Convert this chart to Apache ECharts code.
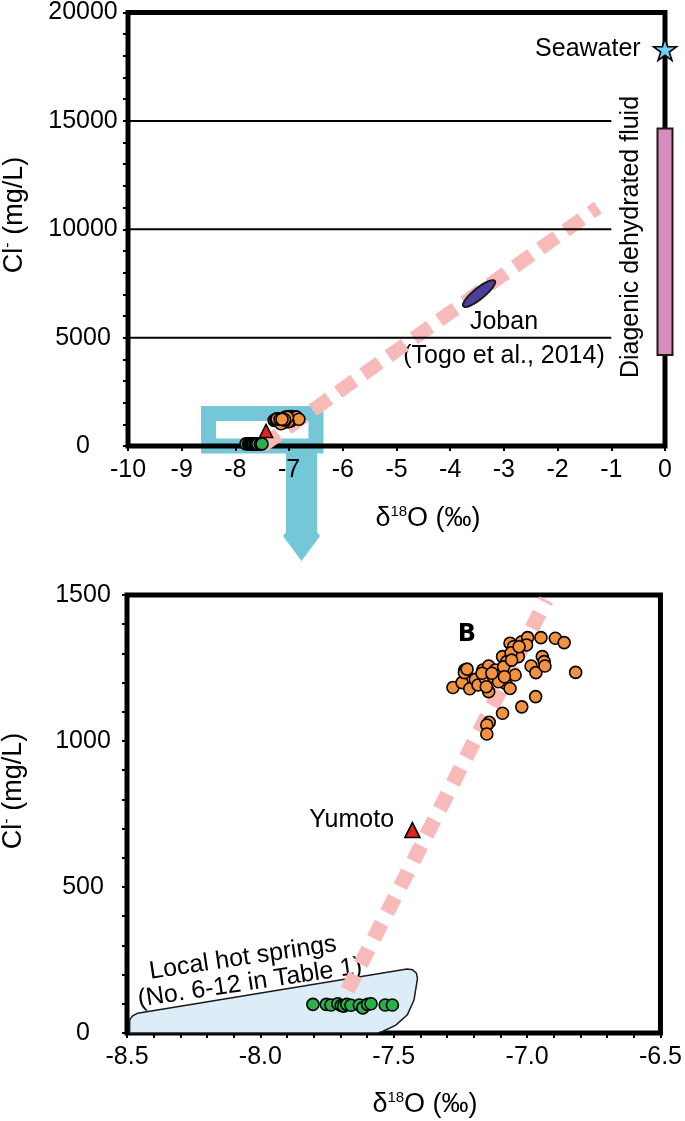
<!DOCTYPE html>
<html><head><meta charset="utf-8">
<script src="https://cdn.jsdelivr.net/npm/echarts@6/dist/echarts.min.js"></script>
<style>html,body{margin:0;padding:0;background:#fff}#c{width:685px;height:1121px}</style>
</head><body><div id="c"></div>
<script>
// ---------------- data ----------------
// Group B (orange) : [δ18O (‰), Cl- (mg/L)]
const groupB = [
 [-7.278,1183],[-7.244,1200],[-7.234,1243],[-7.235,1234],[-7.215,1179],[-7.194,1211],[-7.184,1192],
 [-7.157,1215],[-7.166,1243],[-7.144,1257],[-7.144,1169],[-7.153,1186],[-7.119,1243],[-7.126,1220],
 [-7.092,1289],[-7.082,1198],[-7.064,1180],[-7.076,1272],[-7.064,1335],[-7.051,1323],[-7.045,1226],
 [-7.033,1289],[-7.020,1340],[-6.998,1354],[-7.002,1329],[-7.060,1302],[-7.101,1226],[-7.088,1254],
 [-6.985,1257],[-6.967,1234],[-6.968,1152],[-6.948,1354],[-6.943,1289],[-6.936,1272],[-6.933,1257],
 [-6.894,1352],[-6.861,1337],[-6.818,1235],[-7.020,1117],[-7.092,1095],[-7.142,1064],[-7.151,1055],
 [-7.151,1024],[-7.225,1246],[-7.169,1232],[-7.107,1203],[-7.058,1277],[-7.030,1323],[-7.085,1220],
 [-7.132,1232]
];
// Group A (green, local hot springs)
const groupA = [
 [-7.803,98],[-7.753,98],[-7.735,96],[-7.710,100],[-7.697,94],[-7.688,92],[-7.676,98],
 [-7.660,95],[-7.629,96],[-7.616,86],[-7.598,98],[-7.585,100],[-7.532,96],[-7.505,96]
];
const yumoto = [[-7.43, 695]];
const seawater = [[0, 18300]];
const diageneticRange = [[0, 4200, 14650]];          // x, Cl min, Cl max
const jobanEllipse = [[-3.77, 6420, -3.155, 7650]];   // end points of the Joban field
const mixingLineTop = [[-7.5, 0], [-1.25, 11000]];
const mixingLineBottom = [[-7.673, 147], [-6.928, 1483]];
const topRefLines = [5000, 10000, 15000];
const topRefLineX = [-10, -1];
const zoomBox = [[-8.5, -6.5, 0, 1500]];             // x0, x1, y0, y1
const springsRegion = [
 [-8.49,0],[-8.49,45],[-8.48,58],[-8.46,68],[-7.45,219],[-7.43,217],[-7.415,205],[-7.411,187],
 [-7.424,113],[-7.449,62],[-7.492,27],[-7.542,5],[-7.56,0]
];
const topXRange = [-10, 0], topYRange = [0, 20000];
const botXRange = [-8.5, -6.5], botYRange = [0, 1500];

// ---------------- chart ----------------
const FONT = 'Liberation Sans';
const chart = echarts.init(document.getElementById('c'));

function axisCommon(extra) {
  return Object.assign({
    type: 'value',
    axisLine: { show: false, onZero: false },
    splitLine: { show: false },
    axisTick: { show: true, inside: false, length: 5, lineStyle: { color: '#000', width: 2 } },
    minorTick: { show: false },
    axisLabel: { color: '#000', fontSize: 25, fontFamily: FONT }
  }, extra);
}

const markerStyle = (c) => ({ color: c, borderColor: '#000', borderWidth: 1.6, opacity: 1 });

function scatterSet(gi) {
  const ax = gi ? 1 : 0;
  return [
    { type: 'scatter', xAxisIndex: ax, yAxisIndex: ax, data: groupA, symbolSize: 12,
      itemStyle: markerStyle('#2ab04b'), z: 5 },
    { type: 'scatter', xAxisIndex: ax, yAxisIndex: ax, data: groupB, symbolSize: 12,
      itemStyle: markerStyle('#f2923f'), z: 5 },
    { type: 'scatter', xAxisIndex: ax, yAxisIndex: ax, data: yumoto, symbol: 'triangle',
      symbolSize: gi ? 15 : 13, itemStyle: markerStyle('#e5221e'), z: 6,
      label: gi ? { show: true, position: 'left', distance: 10, offset: [0, -10], formatter: 'Yumoto',
        color: '#000', fontSize: 25, fontFamily: FONT } : { show: false } }
  ];
}

const series = [];
// top reference lines
topRefLines.forEach(v => series.push({
  type: 'line', xAxisIndex: 0, yAxisIndex: 0, symbol: 'none', silent: true, z: 3,
  data: [[topRefLineX[0], v], [topRefLineX[1], v]],
  lineStyle: { color: '#000', width: 2 }
}));
// zoom box (cyan)
series.push({
  type: 'custom', xAxisIndex: 0, yAxisIndex: 0, z: -1, silent: true, clip: false,
  data: zoomBox, encode: { x: [0, 1], y: [2, 3] },
  renderItem: (p, api) => {
    const a = api.coord([api.value(0), api.value(3)]);
    const b = api.coord([api.value(1), api.value(2)]);
    return { type: 'rect', shape: { x: a[0], y: a[1], width: b[0] - a[0], height: b[1] - a[1] },
      style: { fill: 'none', stroke: '#74c7d7', lineWidth: 15 } };
  }
});
// mixing line top
series.push({ type: 'line', xAxisIndex: 0, yAxisIndex: 0, symbol: 'none', silent: true, z: 2,
  data: mixingLineTop, lineStyle: { color: '#f8b9b9', width: 14, type: [20, 11], cap: 'butt' } });
// Joban ellipse
series.push({
  type: 'custom', xAxisIndex: 0, yAxisIndex: 0, z: 4, silent: true,
  data: jobanEllipse, encode: { x: [0, 2], y: [1, 3] },
  renderItem: (p, api) => {
    const a = api.coord([api.value(0), api.value(1)]);
    const b = api.coord([api.value(2), api.value(3)]);
    const cx = (a[0] + b[0]) / 2, cy = (a[1] + b[1]) / 2;
    const rx = Math.hypot(b[0] - a[0], b[1] - a[1]) / 2 - 1, ry = 5.5;
    const ang = Math.atan2(b[1] - a[1], b[0] - a[0]);
    const pts = [];
    for (let i = 0; i < 48; i++) {
      const t = i / 48 * Math.PI * 2;
      const ex = rx * Math.cos(t), ey = ry * Math.sin(t);
      pts.push([cx + ex * Math.cos(ang) - ey * Math.sin(ang), cy + ex * Math.sin(ang) + ey * Math.cos(ang)]);
    }
    return { type: 'polygon', shape: { points: pts }, style: { fill: '#4c3f9c', stroke: '#231815', lineWidth: 2 } };
  }
});
// diagenetic fluid bar
series.push({
  type: 'custom', xAxisIndex: 0, yAxisIndex: 0, z: 4, silent: true, clip: false,
  data: diageneticRange, encode: { x: 0, y: [1, 2] },
  renderItem: (p, api) => {
    const lo = api.coord([api.value(0), api.value(1)]);
    const hi = api.coord([api.value(0), api.value(2)]);
    const w = 15;
    return { type: 'rect', shape: { x: lo[0] - w / 2, y: hi[1], width: w, height: lo[1] - hi[1] },
      style: { fill: '#d68dbd', stroke: '#231815', lineWidth: 2 } };
  }
});
// seawater star
series.push({
  type: 'scatter', xAxisIndex: 0, yAxisIndex: 0, data: seawater, z: 6,
  symbol: 'path://M50,0 L61,35 L98,35 L68,57 L79,91 L50,70 L21,91 L32,57 L2,35 L39,35 Z',
  symbolSize: [23, 22], itemStyle: markerStyle('#6fcff4'),
  label: { show: true, position: 'left', distance: 12, formatter: 'Seawater', color: '#000', fontSize: 25, fontFamily: FONT }
});
series.push(...scatterSet(0));

// bottom chart
series.push({
  type: 'custom', xAxisIndex: 1, yAxisIndex: 1, z: 1, silent: true,
  data: springsRegion,
  renderItem: (p, api) => {
    if (p.dataIndex !== 0) return null;
    const pts = springsRegion.map(v => api.coord(v));
    return { type: 'polygon', shape: { points: pts, smooth: 0 },
      style: { fill: '#dcedf8', stroke: '#1a1a1a', lineWidth: 1.5 } };
  }
});
series.push({ type: 'line', xAxisIndex: 1, yAxisIndex: 1, symbol: 'none', silent: true, z: 2,
  data: mixingLineBottom, lineStyle: { color: '#f8b9b9', width: 15, type: [17, 12], cap: 'butt' } });
series.push(...scatterSet(1));

const plain = v => String(v);
const option = {
  animation: false,
  backgroundColor: '#fff',
  textStyle: { fontFamily: FONT },
  grid: [
    { left: 128, top: 12, width: 537, height: 434, show: true, borderColor: '#000', borderWidth: 5, backgroundColor: 'transparent' },
    { left: 127, top: 595, width: 536, height: 438, show: true, borderColor: '#000', borderWidth: 5, backgroundColor: 'transparent' }
  ],
  xAxis: [
    axisCommon({ gridIndex: 0, min: topXRange[0], max: topXRange[1], interval: 1, position: 'bottom',
      axisLabel: { color: '#000', fontSize: 25, fontFamily: FONT, margin: 12, formatter: plain } }),
    axisCommon({ gridIndex: 1, min: botXRange[0], max: botXRange[1], interval: 0.5, position: 'bottom',
      minorTick: { show: true, splitNumber: 5, length: 5, lineStyle: { color: '#000', width: 2 } },
      axisLabel: { color: '#000', fontSize: 25, fontFamily: FONT, margin: 12, formatter: v => v.toFixed(1) } })
  ],
  yAxis: [
    axisCommon({ gridIndex: 0, min: topYRange[0], max: topYRange[1], interval: 5000, position: 'left',
      minorTick: { show: true, splitNumber: 5, length: 5, lineStyle: { color: '#000', width: 2 } },
      axisLabel: { color: '#000', fontSize: 25, fontFamily: FONT, align: 'center', margin: 45, formatter: plain } }),
    axisCommon({ gridIndex: 1, min: botYRange[0], max: botYRange[1], interval: 500, position: 'left',
      minorTick: { show: true, splitNumber: 5, length: 5, lineStyle: { color: '#000', width: 2 } },
      axisLabel: { color: '#000', fontSize: 25, fontFamily: FONT, align: 'center', margin: 44, formatter: plain } })
  ],
  graphic: [
    // arrow from box to lower panel
    { type: 'polygon', z: -1, silent: true,
      shape: { points: [[286, 452], [317, 452], [317, 532], [320, 536], [301.5, 561], [283, 536], [286, 532]] },
      style: { fill: '#74c7d7' } },
    // axis titles
    { type: 'text', x: 428, y: 519, silent: true,
      style: { text: '{a|δ}{b|18}{a|O (‰)}', textAlign: 'center', textVerticalAlign: 'middle',
        rich: { a: { fontSize: 27, fontFamily: FONT, fill: '#000', lineHeight: 30 },
                b: { fontSize: 15, fontFamily: FONT, fill: '#000', verticalAlign: 'top', lineHeight: 16 } } } },
    { type: 'text', x: 425, y: 1105, silent: true,
      style: { text: '{a|δ}{b|18}{a|O (‰)}', textAlign: 'center', textVerticalAlign: 'middle',
        rich: { a: { fontSize: 27, fontFamily: FONT, fill: '#000', lineHeight: 30 },
                b: { fontSize: 15, fontFamily: FONT, fill: '#000', verticalAlign: 'top', lineHeight: 16 } } } },
    { type: 'text', x: 15, y: 215, rotation: Math.PI / 2, silent: true,
      style: { text: '{a|Cl}{b|-}{a| (mg/L)}', textAlign: 'center', textVerticalAlign: 'middle',
        rich: { a: { fontSize: 27, fontFamily: FONT, fill: '#000', lineHeight: 30 },
                b: { fontSize: 16, fontFamily: FONT, fill: '#000', verticalAlign: 'top', lineHeight: 16 } } } },
    { type: 'text', x: 14, y: 791, rotation: Math.PI / 2, silent: true,
      style: { text: '{a|Cl}{b|-}{a| (mg/L)}', textAlign: 'center', textVerticalAlign: 'middle',
        rich: { a: { fontSize: 27, fontFamily: FONT, fill: '#000', lineHeight: 30 },
                b: { fontSize: 16, fontFamily: FONT, fill: '#000', verticalAlign: 'top', lineHeight: 16 } } } },
    // annotations
    { type: 'text', x: 631, y: 237, rotation: Math.PI / 2, silent: true,
      style: { text: 'Diagenic dehydrated fluid', textAlign: 'center', textVerticalAlign: 'middle',
        fontSize: 25, fontFamily: FONT, fill: '#000' } },
    { type: 'text', x: 504, y: 322, silent: true,
      style: { text: 'Joban', textAlign: 'center', textVerticalAlign: 'middle', fontSize: 25, fontFamily: FONT, fill: '#000' } },
    { type: 'text', x: 504, y: 356, silent: true,
      style: { text: '(Togo et al., 2014)', textAlign: 'center', textVerticalAlign: 'middle', fontSize: 25, fontFamily: FONT, fill: '#000' } },
    { type: 'text', x: 243, y: 958, rotation: 8.5 * Math.PI / 180, silent: true,
      style: { text: 'Local hot springs', textAlign: 'center', textVerticalAlign: 'middle', fontSize: 25, fontFamily: FONT, fill: '#000' } },
    { type: 'text', x: 250, y: 983, rotation: 8.5 * Math.PI / 180, silent: true,
      style: { text: '(No. 6-12 in Table 1)', textAlign: 'center', textVerticalAlign: 'middle', fontSize: 25, fontFamily: FONT, fill: '#000' } },
    { type: 'text', x: 289, y: 1012, silent: true,
      style: { text: 'A', textAlign: 'center', textVerticalAlign: 'middle', fontSize: 24, fontWeight: 'bold', fontFamily: 'DejaVu Sans', fill: '#000' } },
    { type: 'text', x: 467, y: 635, silent: true,
      style: { text: 'B', textAlign: 'center', textVerticalAlign: 'middle', fontSize: 24, fontWeight: 'bold', fontFamily: 'DejaVu Sans', fill: '#000' } }
  ],
  series: series
};
chart.setOption(option);
</script></body></html>
